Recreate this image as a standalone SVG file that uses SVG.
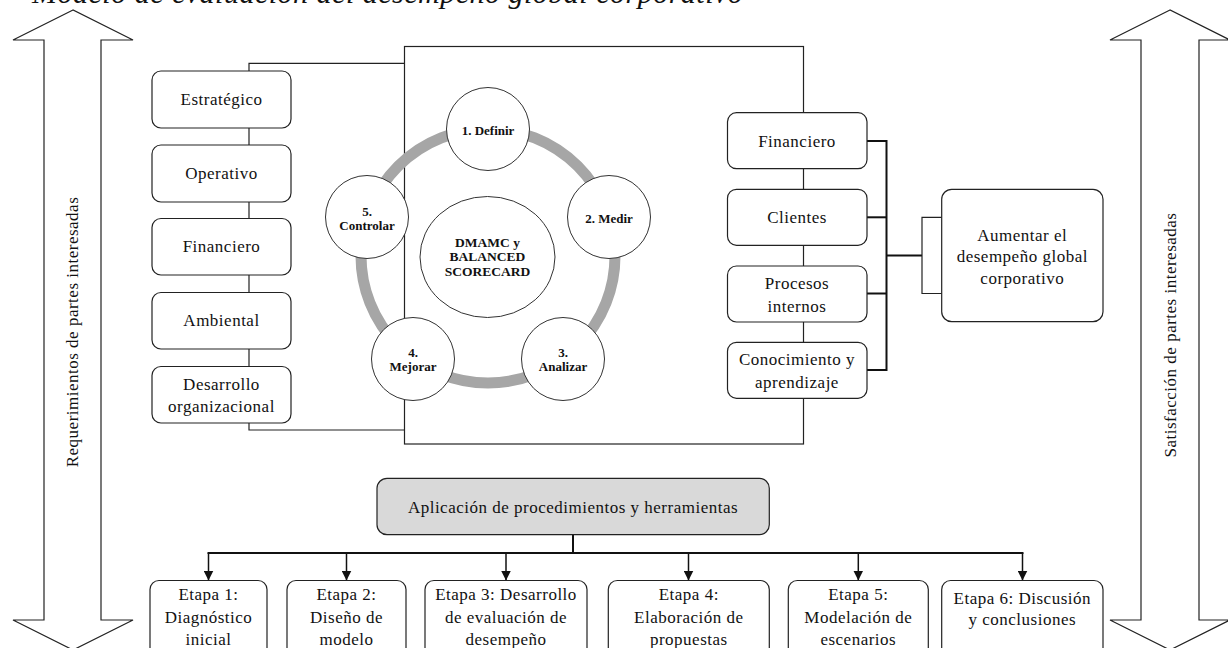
<svg xmlns="http://www.w3.org/2000/svg" width="1228" height="648" viewBox="0 0 1228 648">
<style>
.t{font-family:"Liberation Serif","Times New Roman",serif;font-size:17px;letter-spacing:0.5px;fill:#111;text-anchor:middle;dominant-baseline:central}
.b{font-family:"Liberation Serif","Times New Roman",serif;font-weight:bold;font-size:13px;fill:#111;text-anchor:middle;dominant-baseline:central}
.box{fill:#fff;stroke:#222;stroke-width:1.2}
.ln{fill:none;stroke:#222;stroke-width:1.2}
.th{fill:none;stroke:#111;stroke-width:2}
.node{fill:#fff;stroke:#333;stroke-width:1}
</style>
<defs>
<marker id="ah" viewBox="0 0 10 10" refX="10" refY="5" markerWidth="10" markerHeight="10" markerUnits="userSpaceOnUse" orient="auto"><path d="M0,0 L10,5 L0,10 z" fill="#111"/></marker>
</defs>
<rect width="1228" height="648" fill="#fff"/>
<text x="32" y="2.5" style="font-family:'Liberation Serif','Times New Roman',serif;font-style:italic;font-size:30px;letter-spacing:0.5px;fill:#111">Modelo de evaluación del desempeño global corporativo</text>

<g id="arrow-left">
<polygon class="ln" points="73,10 13,40 44,40 44,620 13,620 73,650 133,620 101,620 101,40 133,40"/>
<text class="t" transform="translate(72,332) rotate(-90)">Requerimientos de partes interesadas</text>
</g>
<g id="arrow-right">
<polygon class="ln" points="1170,10 1110,40 1141,40 1141,620 1110,620 1170,650 1230,620 1199,620 1199,40 1230,40"/>
<text class="t" transform="translate(1170,335) rotate(-90)">Satisfacción de partes interesadas</text>
</g>

<g id="connectors">
<polyline class="ln" points="404.5,63.3 249,63.3 249,430 404.5,430"/>
<polyline class="th" points="867,141 886.5,141 886.5,370 867,370"/>
<line class="th" x1="867" y1="217.3" x2="886.5" y2="217.3"/>
<line class="th" x1="867" y1="293.5" x2="886.5" y2="293.5"/>
<line class="th" x1="886.5" y1="255.5" x2="922" y2="255.5"/>
<polyline class="ln" points="941.7,217.3 922,217.3 922,293.5 941.7,293.5"/>
<line class="th" x1="573" y1="534.7" x2="573" y2="553"/>
<line class="th" x1="207.5" y1="553" x2="1023.5" y2="553"/>
<g stroke="#111" stroke-width="1.5" marker-end="url(#ah)">
<line x1="208.5" y1="553" x2="208.5" y2="580.5"/>
<line x1="346.5" y1="553" x2="346.5" y2="580.5"/>
<line x1="506" y1="553" x2="506" y2="580.5"/>
<line x1="688.5" y1="553" x2="688.5" y2="580.5"/>
<line x1="858.3" y1="553" x2="858.3" y2="580.5"/>
<line x1="1022.5" y1="553" x2="1022.5" y2="580.5"/>
</g>
</g>

<g id="frame"><rect class="ln" x="404.5" y="46.5" width="399" height="397.5"/></g>

<g id="ring">
<circle cx="488" cy="256" r="127" fill="none" stroke="#a6a6a6" stroke-width="11"/>
</g>
<g id="center"><ellipse class="node" cx="487.5" cy="257" rx="67.5" ry="60.5"/>
<text class="b" style="font-size:13.5px"><tspan x="487.5" y="242">DMAMC y</tspan><tspan x="487.5" y="256.3">BALANCED</tspan><tspan x="487.5" y="270.6">SCORECARD</tspan></text></g>
<g id="definir"><circle class="node" cx="488" cy="129" r="41.5"/><text class="b" x="488" y="130">1. Definir</text></g>
<g id="medir"><circle class="node" cx="609" cy="217" r="41.5"/><text class="b" x="609" y="218">2. Medir</text></g>
<g id="analizar"><circle class="node" cx="563" cy="359" r="41.5"/><text class="b"><tspan x="563" y="352">3.</tspan><tspan x="563" y="366">Analizar</tspan></text></g>
<g id="mejorar"><circle class="node" cx="413" cy="359" r="41.5"/><text class="b"><tspan x="413" y="352">4.</tspan><tspan x="413" y="366">Mejorar</tspan></text></g>
<g id="controlar"><circle class="node" cx="367" cy="217" r="41.5"/><text class="b"><tspan x="367" y="211">5.</tspan><tspan x="367" y="225">Controlar</tspan></text></g>

<g id="l-estrategico"><rect class="box" x="152" y="71" width="139" height="57" rx="9"/><text class="t" x="221.5" y="99.5">Estratégico</text></g>
<g id="l-operativo"><rect class="box" x="152" y="145" width="139" height="57" rx="9"/><text class="t" x="221.5" y="173.5">Operativo</text></g>
<g id="l-financiero"><rect class="box" x="152" y="218.5" width="139" height="56.5" rx="9"/><text class="t" x="221.5" y="246.7">Financiero</text></g>
<g id="l-ambiental"><rect class="box" x="152" y="292.5" width="139" height="56.5" rx="9"/><text class="t" x="221.5" y="320.7">Ambiental</text></g>
<g id="l-desarrollo"><rect class="box" x="152" y="366.5" width="139" height="56.5" rx="9"/><text class="t"><tspan x="221.5" y="384">Desarrollo</tspan><tspan x="221.5" y="405.5">organizacional</tspan></text></g>

<g id="r-financiero"><rect class="box" x="727.5" y="112.7" width="139.5" height="56" rx="9"/><text class="t" x="797" y="141">Financiero</text></g>
<g id="r-clientes"><rect class="box" x="727.5" y="189.3" width="139.5" height="56" rx="9"/><text class="t" x="797" y="217.3">Clientes</text></g>
<g id="r-procesos"><rect class="box" x="727.5" y="266" width="139.5" height="56" rx="9"/><text class="t"><tspan x="797" y="282.7">Procesos</tspan><tspan x="797" y="306">internos</tspan></text></g>
<g id="r-conocimiento"><rect class="box" x="727.5" y="342.3" width="139.5" height="56" rx="9"/><text class="t"><tspan x="797" y="358.5">Conocimiento y</tspan><tspan x="797" y="381.7">aprendizaje</tspan></text></g>

<g id="aumentar"><rect class="box" x="941.7" y="189.3" width="161.3" height="132.4" rx="10"/><text class="t"><tspan x="1022.3" y="234.7">Aumentar el</tspan><tspan x="1022.3" y="256">desempeño global</tspan><tspan x="1022.3" y="277.6">corporativo</tspan></text></g>

<g id="aplicacion"><rect x="377" y="478.3" width="392.3" height="56.4" rx="10" fill="#d9d9d9" stroke="#222" stroke-width="1.2"/><text class="t" x="573" y="507">Aplicación de procedimientos y herramientas</text></g>

<g id="etapa1"><rect class="box" x="150" y="580.5" width="117" height="80" rx="9"/><text class="t"><tspan x="208.5" y="594">Etapa 1:</tspan><tspan x="208.5" y="616.5">Diagnóstico</tspan><tspan x="208.5" y="639">inicial</tspan></text></g>
<g id="etapa2"><rect class="box" x="287" y="580.5" width="119" height="80" rx="9"/><text class="t"><tspan x="346.5" y="594">Etapa 2:</tspan><tspan x="346.5" y="616.5">Diseño de</tspan><tspan x="346.5" y="639">modelo</tspan></text></g>
<g id="etapa3"><rect class="box" x="425" y="580.5" width="162" height="80" rx="9"/><text class="t"><tspan x="506" y="594">Etapa 3: Desarrollo</tspan><tspan x="506" y="616.5">de evaluación de</tspan><tspan x="506" y="639">desempeño</tspan></text></g>
<g id="etapa4"><rect class="box" x="608.3" y="580.5" width="161" height="80" rx="9"/><text class="t"><tspan x="688.8" y="594">Etapa 4:</tspan><tspan x="688.8" y="616.5">Elaboración de</tspan><tspan x="688.8" y="639">propuestas</tspan></text></g>
<g id="etapa5"><rect class="box" x="788.3" y="580.5" width="140" height="80" rx="9"/><text class="t"><tspan x="858.3" y="594">Etapa 5:</tspan><tspan x="858.3" y="616.5">Modelación de</tspan><tspan x="858.3" y="639">escenarios</tspan></text></g>
<g id="etapa6"><rect class="box" x="941.7" y="580.5" width="161.3" height="80" rx="9"/><text class="t"><tspan x="1022.3" y="598">Etapa 6: Discusión</tspan><tspan x="1022.3" y="619">y conclusiones</tspan></text></g>
</svg>
